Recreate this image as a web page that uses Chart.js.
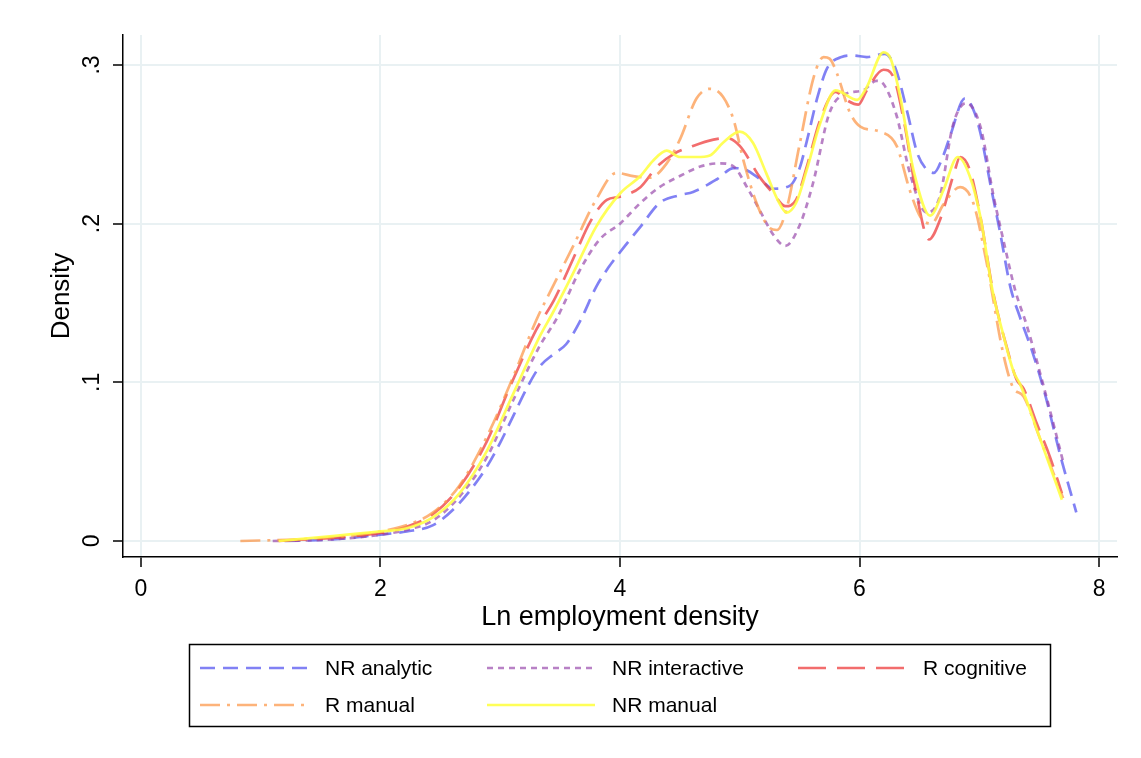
<!DOCTYPE html>
<html>
<head>
<meta charset="utf-8">
<script src="https://cdn.jsdelivr.net/npm/chart.js@4/dist/chart.umd.min.js"></script>
<style>
  body { margin: 0; background: #fff; }
  #wrap { width: 1141px; height: 758px; }
</style>
</head>
<body>
<div id="wrap"><canvas id="densityChart" width="1141" height="758"></canvas></div>
<script>
// --- data ---
const seriesNames = ["NR analytic", "NR interactive", "R cognitive", "R manual", "NR manual"];

const xTicks = [0, 2, 4, 6, 8];
const yTicks = [0, 0.1, 0.2, 0.3];
const yTickLabels = ["0", ".1", ".2", ".3"];

const nrAnalyticX = [1.2, 1.6, 2.0, 2.22, 2.44, 2.61, 2.75, 2.89, 3.0, 3.11, 3.22, 3.33, 3.45, 3.55, 3.67, 3.8, 3.9, 4.0, 4.17, 4.33, 4.5, 4.61, 4.81, 4.95, 5.05, 5.17, 5.28, 5.42, 5.5, 5.56, 5.65, 5.73, 5.85, 5.95, 6.06, 6.21, 6.3, 6.4, 6.48, 6.55, 6.62, 6.7, 6.76, 6.88, 6.95, 7.01, 7.1, 7.17, 7.26, 7.34, 7.44, 7.54, 7.68, 7.81];
const nrAnalyticY = [0.000, 0.001, 0.004, 0.006, 0.010, 0.020, 0.032, 0.047, 0.062, 0.079, 0.096, 0.110, 0.118, 0.124, 0.139, 0.160, 0.172, 0.182, 0.198, 0.213, 0.218, 0.220, 0.228, 0.235, 0.234, 0.228, 0.222, 0.224, 0.235, 0.252, 0.280, 0.298, 0.305, 0.306, 0.305, 0.307, 0.298, 0.270, 0.245, 0.235, 0.232, 0.243, 0.256, 0.279, 0.272, 0.257, 0.222, 0.196, 0.160, 0.141, 0.120, 0.095, 0.053, 0.018];

const nrInteractiveX = [1.1, 1.6, 2.0, 2.22, 2.44, 2.66, 2.89, 3.11, 3.33, 3.47, 3.56, 3.66, 3.83, 4.0, 4.17, 4.33, 4.5, 4.67, 4.83, 4.95, 5.06, 5.17, 5.28, 5.38, 5.5, 5.61, 5.75, 5.89, 6.03, 6.14, 6.2, 6.31, 6.42, 6.56, 6.67, 6.78, 6.89, 7.01, 7.12, 7.2, 7.3, 7.4, 7.56, 7.7];
const nrInteractiveY = [0.000, 0.001, 0.004, 0.007, 0.013, 0.028, 0.053, 0.089, 0.123, 0.140, 0.154, 0.170, 0.190, 0.200, 0.213, 0.223, 0.230, 0.236, 0.238, 0.236, 0.223, 0.208, 0.193, 0.186, 0.199, 0.225, 0.270, 0.282, 0.284, 0.290, 0.288, 0.268, 0.232, 0.207, 0.217, 0.262, 0.276, 0.261, 0.217, 0.190, 0.158, 0.135, 0.091, 0.050];

const rCognitiveX = [1.15, 1.6, 2.0, 2.22, 2.44, 2.66, 2.89, 3.08, 3.3, 3.45, 3.61, 3.75, 3.89, 4.0, 4.17, 4.31, 4.45, 4.61, 4.78, 4.89, 5.0, 5.17, 5.28, 5.38, 5.47, 5.56, 5.67, 5.80, 5.89, 5.99, 6.06, 6.20, 6.28, 6.37, 6.48, 6.58, 6.67, 6.79, 6.84, 6.92, 7.01, 7.12, 7.23, 7.31, 7.37, 7.48, 7.59, 7.69];
const rCognitiveY = [0.000, 0.002, 0.005, 0.009, 0.017, 0.034, 0.063, 0.097, 0.133, 0.152, 0.178, 0.201, 0.215, 0.217, 0.223, 0.236, 0.244, 0.249, 0.253, 0.254, 0.249, 0.229, 0.219, 0.211, 0.215, 0.236, 0.265, 0.283, 0.278, 0.275, 0.284, 0.297, 0.293, 0.265, 0.217, 0.190, 0.202, 0.232, 0.242, 0.234, 0.204, 0.155, 0.122, 0.102, 0.096, 0.074, 0.053, 0.030];

const rManualX = [0.83, 1.3, 1.7, 2.0, 2.22, 2.44, 2.66, 2.89, 3.1, 3.3, 3.45, 3.61, 3.80, 3.97, 4.11, 4.25, 4.39, 4.50, 4.64, 4.75, 4.86, 4.95, 5.03, 5.14, 5.24, 5.31, 5.39, 5.50, 5.62, 5.70, 5.75, 5.81, 5.92, 6.01, 6.17, 6.31, 6.42, 6.51, 6.60, 6.70, 6.84, 6.95, 7.06, 7.20, 7.28, 7.37, 7.5, 7.70];
const rManualY = [0.000, 0.001, 0.003, 0.006, 0.010, 0.018, 0.035, 0.066, 0.102, 0.139, 0.162, 0.186, 0.215, 0.232, 0.230, 0.229, 0.238, 0.253, 0.279, 0.285, 0.280, 0.265, 0.240, 0.213, 0.198, 0.196, 0.209, 0.250, 0.293, 0.305, 0.304, 0.295, 0.270, 0.261, 0.258, 0.249, 0.221, 0.204, 0.200, 0.212, 0.223, 0.213, 0.176, 0.118, 0.097, 0.091, 0.066, 0.027];

const nrManualX = [1.15, 1.6, 2.0, 2.22, 2.44, 2.66, 2.89, 3.11, 3.33, 3.44, 3.61, 3.80, 4.0, 4.17, 4.28, 4.39, 4.50, 4.64, 4.75, 4.86, 5.0, 5.11, 5.22, 5.33, 5.39, 5.47, 5.56, 5.67, 5.80, 5.98, 6.06, 6.20, 6.26, 6.34, 6.45, 6.59, 6.70, 6.82, 6.92, 7.01, 7.11, 7.20, 7.29, 7.34, 7.51, 7.69];
const nrManualY = [0.000, 0.003, 0.006, 0.008, 0.015, 0.030, 0.057, 0.093, 0.129, 0.144, 0.169, 0.198, 0.219, 0.230, 0.240, 0.246, 0.242, 0.242, 0.243, 0.251, 0.258, 0.251, 0.232, 0.213, 0.207, 0.213, 0.234, 0.263, 0.284, 0.278, 0.286, 0.308, 0.304, 0.280, 0.234, 0.205, 0.221, 0.242, 0.230, 0.204, 0.158, 0.130, 0.106, 0.099, 0.064, 0.026];

// --- styles ---
const lineColors = ["rgba(80,80,240,0.72)", "rgba(150,70,170,0.68)", "rgba(238,60,60,0.75)", "rgba(252,150,70,0.72)", "rgba(255,255,70,0.9)"];
const lineDashes = [[15, 8], [6, 5], [28, 11], [20, 7, 3, 7], []];

const FONT = "'Liberation Sans', Arial, sans-serif";
Chart.defaults.font.family = FONT;
Chart.defaults.color = "#000";

function pts(xs, ys) {
    return xs.map((x, i) => ({ x: x, y: ys[i] }));
}

const seriesPoints = [
    pts(nrAnalyticX, nrAnalyticY),
    pts(nrInteractiveX, nrInteractiveY),
    pts(rCognitiveX, rCognitiveY),
    pts(rManualX, rManualY),
    pts(nrManualX, nrManualY)
];

// legend drawn in a box below the plot, 3 columns like the original
const legendCols = [200, 487, 798];
const legendRows = [668, 705];
const legendBox = {
    id: "legendBox",
    afterDraw(chart) {
        const ctx = chart.ctx;
        ctx.save();
        ctx.strokeStyle = "#000";
        ctx.lineWidth = 1.5;
        ctx.strokeRect(189.5, 644.5, 861, 82);
        ctx.font = "21px " + FONT;
        ctx.textBaseline = "middle";
        chart.data.datasets.forEach((ds, i) => {
            const lx = legendCols[i % 3];
            const y = legendRows[Math.floor(i / 3)];
            ctx.strokeStyle = ds.borderColor;
            ctx.lineWidth = ds.borderWidth;
            ctx.setLineDash(ds.borderDash);
            ctx.beginPath();
            ctx.moveTo(lx, y);
            ctx.lineTo(lx + 108, y);
            ctx.stroke();
            ctx.setLineDash([]);
            ctx.fillStyle = "#000";
            ctx.fillText(ds.label, lx + 125, y + 1);
        });
        ctx.restore();
    }
};

const gridColor = "#e9f1f3";

new Chart(document.getElementById("densityChart").getContext("2d"), {
    type: "line",
    data: {
        datasets: seriesNames.map((name, i) => ({
            label: name,
            data: seriesPoints[i],
            borderColor: lineColors[i],
            borderDash: lineDashes[i],
            borderWidth: 2.7,
            pointRadius: 0,
            fill: false,
            cubicInterpolationMode: "monotone",
            order: seriesNames.length - i
        }))
    },
    options: {
        responsive: false,
        animation: false,
        layout: { padding: { left: 0, top: 35, right: 24, bottom: 124 } },
        plugins: { legend: { display: false }, tooltip: { enabled: false } },
        scales: {
            x: {
                type: "linear",
                min: -0.15,
                max: 8.15,
                afterBuildTicks: s => { s.ticks = xTicks.map(v => ({ value: v })); },
                afterFit: s => { s.height = 77; },
                ticks: { font: { size: 23 }, padding: 9, maxRotation: 0 },
                grid: { color: gridColor, lineWidth: 2, tickColor: "#000", tickLength: 10, tickWidth: 1.5 },
                border: { display: true, color: "#000", width: 1.5 },
                title: { display: true, text: "Ln employment density", font: { size: 27 }, padding: 0 }
            },
            y: {
                min: -0.0101,
                max: 0.3189,
                afterBuildTicks: s => { s.ticks = yTicks.map(v => ({ value: v })); },
                afterFit: s => { s.width = 123; },
                ticks: {
                    font: { size: 23 },
                    padding: 11,
                    minRotation: 90,
                    maxRotation: 90,
                    crossAlign: "center",
                    callback: v => yTickLabels[yTicks.indexOf(v)]
                },
                grid: { color: gridColor, lineWidth: 2, tickColor: "#000", tickLength: 10, tickWidth: 1.5 },
                border: { display: true, color: "#000", width: 1.5 },
                title: { display: true, text: "Density", font: { size: 26 }, padding: { top: 46, bottom: 0 } }
            }
        }
    },
    plugins: [legendBox]
});
</script>
</body>
</html>
